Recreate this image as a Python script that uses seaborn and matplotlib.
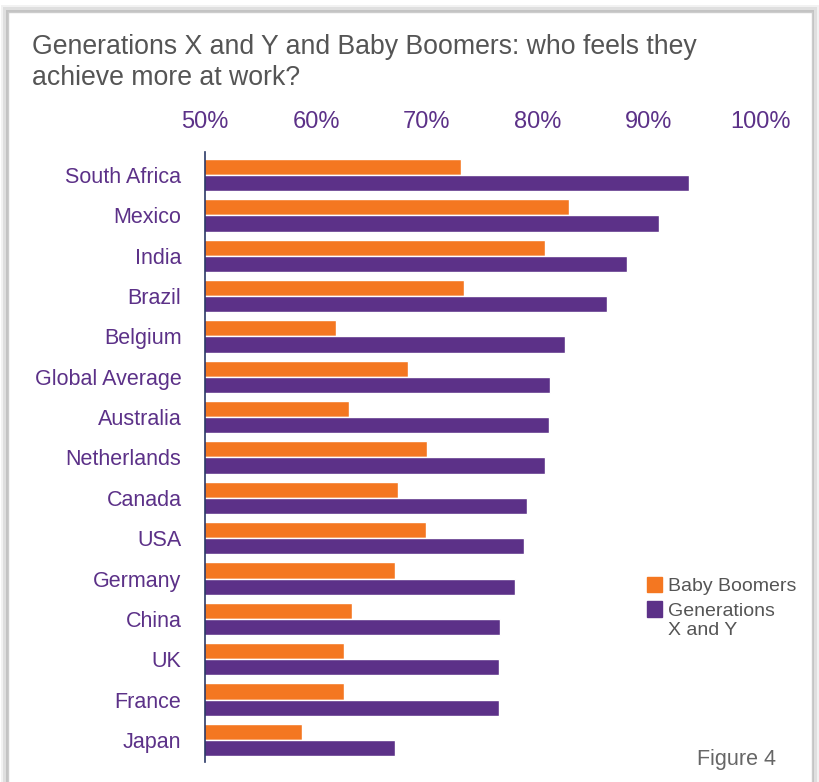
import matplotlib.pyplot as plt
import matplotlib.patches as mpatches
from matplotlib.legend_handler import HandlerPatch
import pandas as pd
import seaborn as sns

# Data
countries = ['South Africa', 'Mexico', 'India', 'Brazil', 'Belgium', 'Global Average',
             'Australia', 'Netherlands', 'Canada', 'USA', 'Germany', 'China', 'UK',
             'France', 'Japan']
baby_boomers = [73.1, 82.8, 80.6, 73.3, 61.8, 68.3, 63.0, 70.0, 67.4, 69.9, 67.1, 63.2, 62.5, 62.5, 58.7]
gen_xy = [93.6, 90.9, 88.0, 86.2, 82.4, 81.1, 81.0, 80.6, 79.0, 78.7, 77.9, 76.6, 76.5, 76.5, 67.1]
groups = ['Baby Boomers', 'Generations\nX and Y']
ticks = [50, 60, 70, 80, 90, 100]
tick_labels = ['50%', '60%', '70%', '80%', '90%', '100%']

ORANGE = '#F47721'
PURPLE = '#5C3188'

df = pd.DataFrame({
    'country': countries * 2,
    'value': baby_boomers + gen_xy,
    'group': [groups[0]] * len(countries) + [groups[1]] * len(countries),
})

sns.set_style('white')
plt.rcParams['font.family'] = ['Liberation Sans', 'DejaVu Sans']

fig = plt.figure(figsize=(8.19, 7.82), dpi=100)

# card frame with a soft shadow
for i, a in enumerate([0.05, 0.08, 0.12]):
    off = (3 - i) * 0.003
    fig.patches.append(mpatches.Rectangle((8 / 819 - off, -0.05), (804 / 819) + 2 * off, 1 - 12 / 782 + 0.05 + off,
                                          transform=fig.transFigure, facecolor='black', alpha=a,
                                          edgecolor='none', zorder=-10))
fig.patches.append(mpatches.Rectangle((8 / 819, -0.05), 804 / 819, 1 - 12 / 782 + 0.05,
                                      transform=fig.transFigure, facecolor='white',
                                      edgecolor='#cccccc', lw=1, zorder=-9))

ax = fig.add_axes([205 / 819, 1 - 760 / 782, 555 / 819, 605 / 782])
ax.set_zorder(1)
ax.patch.set_alpha(0)

sns.barplot(data=df, y='country', x='value', hue='group', orient='h',
            palette=[ORANGE, PURPLE], saturation=1, width=0.8, ax=ax)

ax.set_xlim(50, 100)
ax.set_xticks(ticks)
ax.set_xticklabels(tick_labels)
ax.xaxis.tick_top()
ax.tick_params(axis='x', length=0, pad=15.5, labelsize=17, labelcolor=PURPLE)
ax.tick_params(axis='y', length=0, pad=17, labelsize=15.5, labelcolor=PURPLE)
ax.set_xlabel('')
ax.set_ylabel('')
for s in ['top', 'right', 'bottom']:
    ax.spines[s].set_visible(False)
ax.spines['left'].set_color('#2b3a67')
ax.spines['left'].set_linewidth(1.2)
ax.spines['left'].set_bounds(-0.58, 14.55)


# square next to the first line of a two-line label
def top_square(legend, orig_handle, xdescent, ydescent, width, height, fontsize):
    return mpatches.Rectangle((-xdescent, -ydescent + 0.6 * fontsize), width, height)


handles = [mpatches.Patch(color=ORANGE), mpatches.Patch(color=PURPLE)]
leg = ax.legend(handles, groups, loc='upper left', bbox_to_anchor=(629 / 819, 1 - 559 / 782),
                bbox_transform=fig.transFigure, frameon=False, fontsize=14,
                labelcolor='#555555', handlelength=0.82, handleheight=0.82,
                handletextpad=0.3, labelspacing=0.4,
                handler_map={handles[1]: HandlerPatch(patch_func=top_square)})
for t in leg.get_texts():
    t.set_linespacing(1.2)

fig.text(32 / 819, 1 - 34 / 782, 'Generations X and Y and Baby Boomers: who feels they\nachieve more at work?',
         ha='left', va='top', fontsize=19.2, color='#555555', linespacing=1.26)
fig.text(776 / 819, 1 - 760 / 782, 'Figure 4', ha='right', va='center', fontsize=15.5, color='#666666')

fig.savefig('out.png', dpi=100)
